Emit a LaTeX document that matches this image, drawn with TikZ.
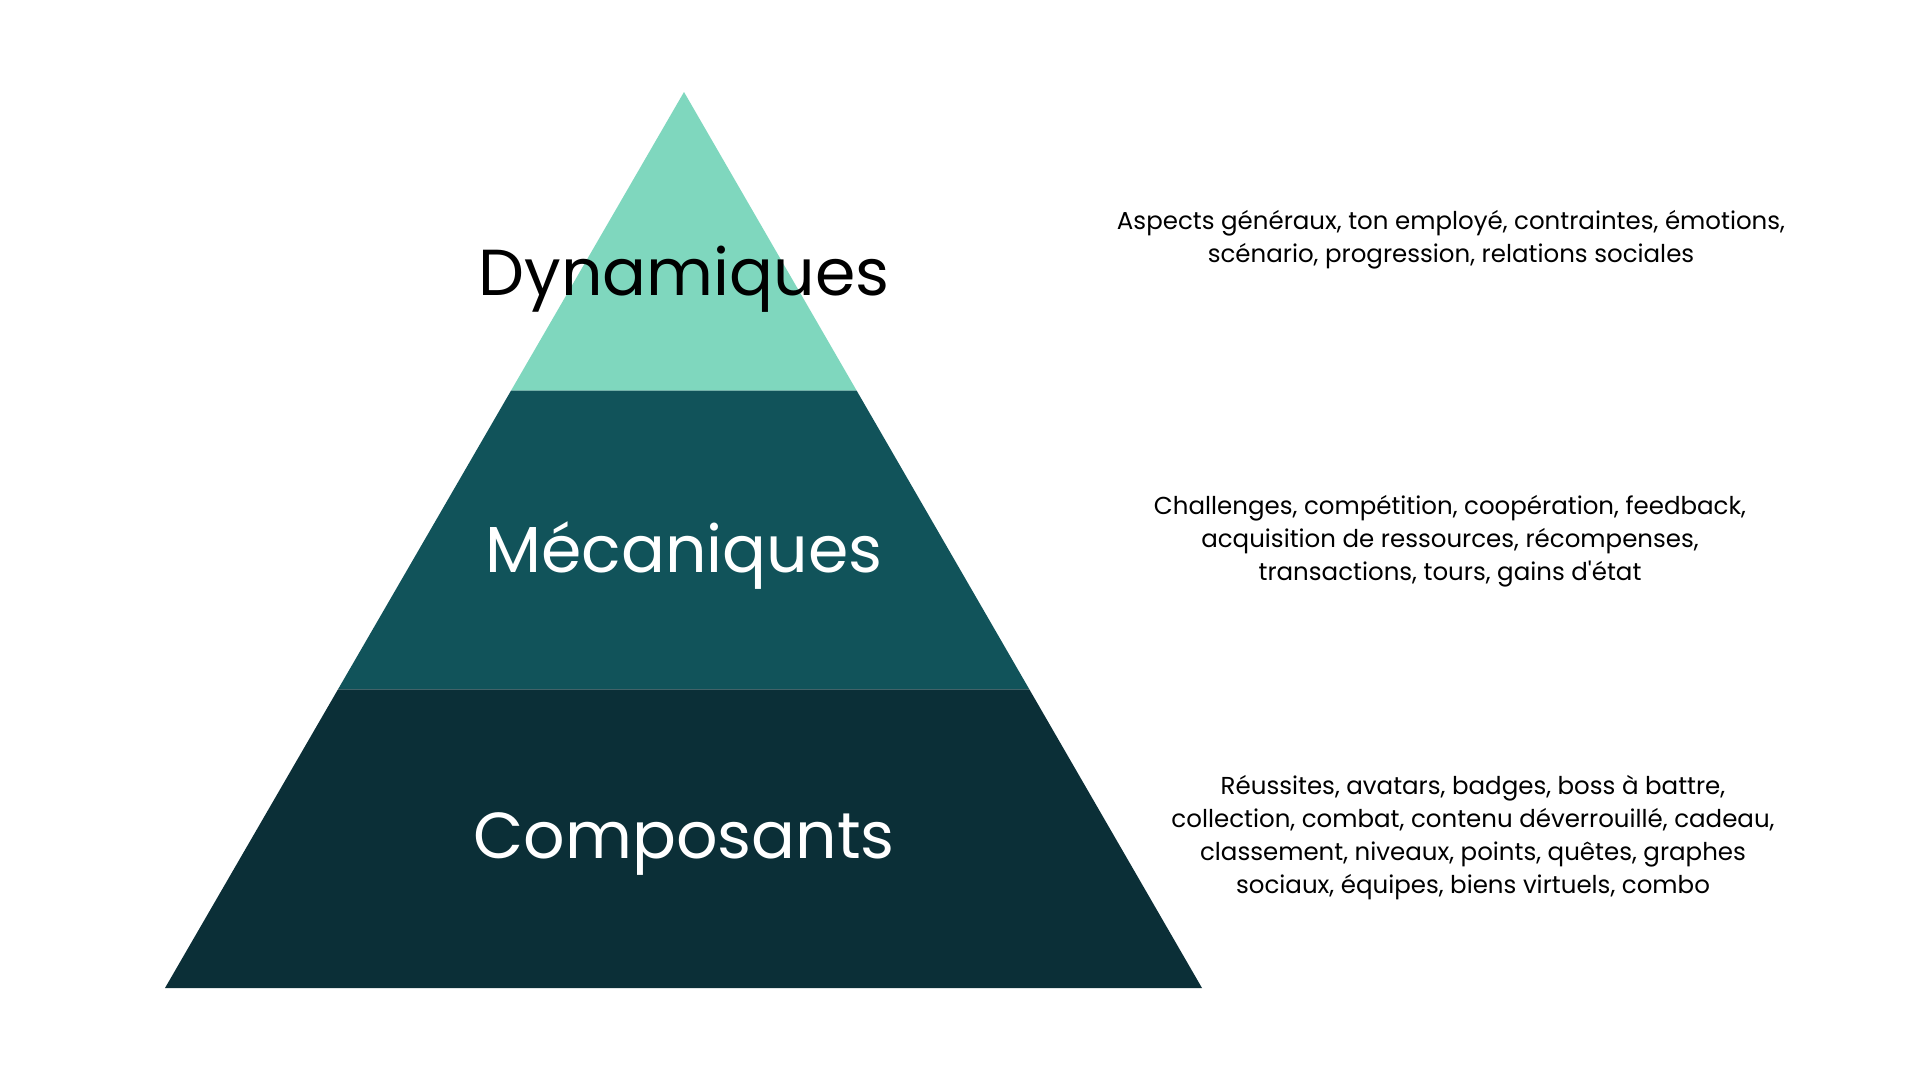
\documentclass[tikz,border=0pt]{standalone}
\usepackage{fontspec}
\setmainfont{Poppins}
\usetikzlibrary{calc}
\definecolor{mint}{HTML}{7FD7BE}
\definecolor{teal}{HTML}{11535A}
\definecolor{deep}{HTML}{0B2F37}
\tikzset{
  layer/.style={font=\fontsize{65}{70}\selectfont, anchor=base},
  info/.style={font=\fontsize{24.5}{33}\selectfont, align=center, text=black}
}
\begin{document}
\begin{tikzpicture}[x=1pt, y=-1pt]
      % Page with its margins
      \fill[white] (0,0) rectangle (1920,1080);
      \useasboundingbox (0,0) rectangle (1920,1080);

      % Corners of the pyramid
      \coordinate (apex) at (684,92);
      \coordinate (bl) at (165,988);
      \coordinate (br) at (1202,988);
      \coordinate (l1) at ($(apex)!1/3!(bl)$);
      \coordinate (r1) at ($(apex)!1/3!(br)$);
      \coordinate (l2) at ($(apex)!2/3!(bl)$);
      \coordinate (r2) at ($(apex)!2/3!(br)$);

      % Fill the three layers
      \fill[mint] (apex) -- (r1) -- (l1) -- cycle;
      \fill[teal] (l1) -- (r1) -- (r2) -- (l2) -- cycle;
      \fill[deep] (l2) -- (r2) -- (br) -- (bl) -- cycle;

      % Names of the layers
      \node[layer, text=black] (dyn) at (684,295) {Dynamiques};
      \node[layer, text=white] (meca) at (684,572) {Mécaniques};
      \node[layer, text=white] (comp) at (684,858) {Composants};

      % Add the text beside each layer
      \node[info] (dyntext) at (1451,239.5) {Aspects généraux, ton employé, contraintes, émotions,\\
        scénario, progression, relations sociales};
      \node[info] (mecatext) at (1450,541) {Challenges, compétition, coopération, feedback,\\
        acquisition de ressources, récompenses,\\ transactions, tours, gains d\textquotesingle état};
      \node[info] (comptext) at (1473,838) {Réussites, avatars, badges, boss à battre,\\
        collection, combat, contenu déverrouillé, cadeau,\\
        classement, niveaux, points, quêtes, graphes\\ sociaux, équipes, biens virtuels, combo};
    \end{tikzpicture}
\end{document}
